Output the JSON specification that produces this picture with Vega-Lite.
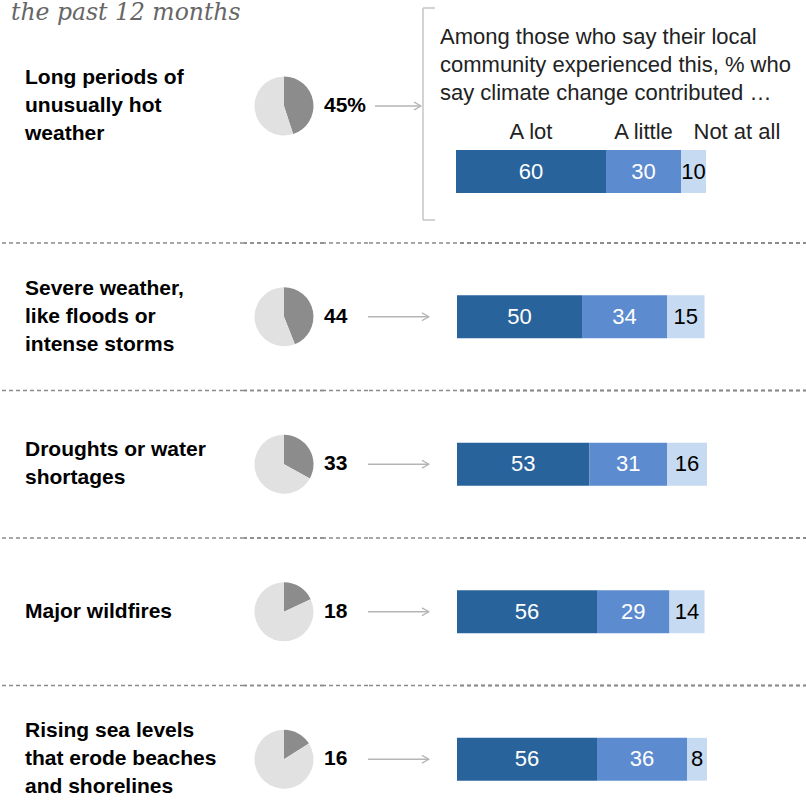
{
  "$schema": "https://vega.github.io/schema/vega-lite/v6.json",
  "padding": 0,
  "spacing": 0,
  "config": {
    "view": {"stroke": null},
    "concat": {"spacing": 0},
    "font": "Liberation Sans"
  },
  "datasets": {
    "notes": [
      {"part": "subtitle", "text": "the past 12 months"},
      {"part": "note", "text": "Among those who say their local\ncommunity experienced this, % who\nsay climate change contributed …"}
    ],
    "exp": [
      {"row": 1, "item": "Long periods of unusually hot weather", "label": "Long periods of\nunusually hot\nweather", "share": 45, "display": "45%"},
      {"row": 2, "item": "Severe weather, like floods or intense storms", "label": "Severe weather,\nlike floods or\nintense storms", "share": 44, "display": "44"},
      {"row": 3, "item": "Droughts or water shortages", "label": "Droughts or water\nshortages", "share": 33, "display": "33"},
      {"row": 4, "item": "Major wildfires", "label": "Major wildfires", "share": 18, "display": "18"},
      {"row": 5, "item": "Rising sea levels that erode beaches and shorelines", "label": "Rising sea levels\nthat erode beaches\nand shorelines", "share": 16, "display": "16"}
    ],
    "pie": [
      {"row": 1, "item": "Long periods of unusually hot weather", "part": "Yes", "value": 45},
      {"row": 1, "item": "Long periods of unusually hot weather", "part": "No", "value": 55},
      {"row": 2, "item": "Severe weather, like floods or intense storms", "part": "Yes", "value": 44},
      {"row": 2, "item": "Severe weather, like floods or intense storms", "part": "No", "value": 56},
      {"row": 3, "item": "Droughts or water shortages", "part": "Yes", "value": 33},
      {"row": 3, "item": "Droughts or water shortages", "part": "No", "value": 67},
      {"row": 4, "item": "Major wildfires", "part": "Yes", "value": 18},
      {"row": 4, "item": "Major wildfires", "part": "No", "value": 82},
      {"row": 5, "item": "Rising sea levels that erode beaches and shorelines", "part": "Yes", "value": 16},
      {"row": 5, "item": "Rising sea levels that erode beaches and shorelines", "part": "No", "value": 84}
    ],
    "contrib": [
      {"row": 1, "item": "Long periods of unusually hot weather", "resp": "A lot", "ord": 1, "value": 60},
      {"row": 1, "item": "Long periods of unusually hot weather", "resp": "A little", "ord": 2, "value": 30},
      {"row": 1, "item": "Long periods of unusually hot weather", "resp": "Not at all", "ord": 3, "value": 10},
      {"row": 2, "item": "Severe weather, like floods or intense storms", "resp": "A lot", "ord": 1, "value": 50},
      {"row": 2, "item": "Severe weather, like floods or intense storms", "resp": "A little", "ord": 2, "value": 34},
      {"row": 2, "item": "Severe weather, like floods or intense storms", "resp": "Not at all", "ord": 3, "value": 15},
      {"row": 3, "item": "Droughts or water shortages", "resp": "A lot", "ord": 1, "value": 53},
      {"row": 3, "item": "Droughts or water shortages", "resp": "A little", "ord": 2, "value": 31},
      {"row": 3, "item": "Droughts or water shortages", "resp": "Not at all", "ord": 3, "value": 16},
      {"row": 4, "item": "Major wildfires", "resp": "A lot", "ord": 1, "value": 56},
      {"row": 4, "item": "Major wildfires", "resp": "A little", "ord": 2, "value": 29},
      {"row": 4, "item": "Major wildfires", "resp": "Not at all", "ord": 3, "value": 14},
      {"row": 5, "item": "Rising sea levels that erode beaches and shorelines", "resp": "A lot", "ord": 1, "value": 56},
      {"row": 5, "item": "Rising sea levels that erode beaches and shorelines", "resp": "A little", "ord": 2, "value": 36},
      {"row": 5, "item": "Rising sea levels that erode beaches and shorelines", "resp": "Not at all", "ord": 3, "value": 8}
    ]
  },
  "vconcat": [
    {
      "spacing": 0,
      "hconcat": [
        {
          "spacing": 0,
          "vconcat": [
            {
              "width": 421,
              "height": 36,
              "data": {"name": "notes"},
              "transform": [{"filter": "datum.part === 'subtitle'"}],
              "mark": {"type": "text", "align": "left", "baseline": "alphabetic", "dx": 10, "dy": 0.8, "font": "DejaVu Serif", "fontStyle": "italic", "fontSize": 23.5, "color": "#666666"},
              "encoding": {"x": {"value": 0}, "text": {"field": "text"}}
            },
            {
              "spacing": 0,
              "bounds": "flush",
              "hconcat": [
                {
                  "width": 243,
                  "height": 138,
                  "data": {"name": "exp"},
                  "transform": [{"filter": "datum.row === 1"}],
                  "mark": {"type": "text", "align": "left", "baseline": "middle", "dx": 24, "dy": {"expr": "-14 * (length(split(datum.label, '\\n')) - 1)"}, "fontSize": 21, "fontWeight": "bold", "lineBreak": "\n", "lineHeight": 28, "color": "#000000"},
                  "encoding": {"x": {"value": 0}, "text": {"field": "label"}}
                },
                {
                  "width": 80,
                  "height": 138,
                  "data": {"name": "pie"},
                  "transform": [
                    {"filter": "datum.row === 1"},
                    {"stack": "value", "groupby": ["item"], "sort": [{"field": "part", "order": "descending"}], "as": ["v0", "v1"]}
                  ],
                  "mark": {"type": "arc", "outerRadius": 29.5},
                  "encoding": {
                    "theta": {"field": "v0", "type": "quantitative", "scale": {"domain": [0, 100]}},
                    "theta2": {"field": "v1"},
                    "color": {"condition": {"test": "datum.part === 'Yes'", "value": "#8c8c8c"}, "value": "#e1e1e1"}
                  }
                },
                {
                  "width": 51,
                  "height": 138,
                  "data": {"name": "exp"},
                  "transform": [{"filter": "datum.row === 1"}],
                  "mark": {"type": "text", "align": "left", "baseline": "middle", "fontSize": 21, "fontWeight": "bold", "color": "#000000"},
                  "encoding": {"x": {"value": 0}, "text": {"field": "display"}}
                },
                {
                  "width": 47,
                  "height": 138,
                  "data": {"name": "exp"},
                  "transform": [{"filter": "datum.row === 1"}],
                  "layer": [
                    {
                      "mark": {"type": "rule", "color": "#b5b5b5", "strokeWidth": 1.3},
                      "encoding": {
                        "x": {"datum": 0, "type": "quantitative", "scale": {"domain": [0, 1.02], "nice": false, "zero": false}, "axis": null},
                        "x2": {"datum": 1}
                      }
                    },
                    {
                      "mark": {"type": "point", "shape": "M-1,-0.55L0,0L-1,0.55", "filled": false, "stroke": "#b5b5b5", "strokeWidth": 1.3, "strokeJoin": "round", "size": 196, "opacity": 1},
                      "encoding": {"x": {"datum": 1, "type": "quantitative", "scale": {"domain": [0, 1.02], "nice": false, "zero": false}, "axis": null}}
                    }
                  ]
                }
              ]
            }
          ]
        },
        {
          "spacing": 0,
          "bounds": "flush",
          "vconcat": [
            {"width": 12, "height": 7, "mark": {"type": "rule", "opacity": 0}, "encoding": {}},
            {
              "width": 12,
              "height": 212,
              "data": {"name": "exp"},
              "transform": [{"filter": "datum.row === 1"}],
              "layer": [
                {
                  "mark": {"type": "rule", "color": "#c4c4c4", "strokeWidth": 1.5},
                  "encoding": {"x": {"datum": 0, "type": "quantitative", "scale": {"domain": [0, 1]}, "axis": null}}
                },
                {
                  "mark": {"type": "rule", "color": "#c4c4c4", "strokeWidth": 1.5},
                  "encoding": {"y": {"datum": 0, "type": "quantitative", "scale": {"domain": [0, 1]}, "axis": null}}
                },
                {
                  "mark": {"type": "rule", "color": "#c4c4c4", "strokeWidth": 1.5},
                  "encoding": {"y": {"datum": 1, "type": "quantitative", "scale": {"domain": [0, 1]}, "axis": null}}
                }
              ]
            },
            {"width": 12, "height": 21.5, "mark": {"type": "rule", "opacity": 0}, "encoding": {}}
          ]
        },
        {
          "spacing": 0,
          "bounds": "flush",
          "vconcat": [
            {
              "width": 370,
              "height": 118,
              "data": {"name": "notes"},
              "transform": [{"filter": "datum.part === 'note'"}],
              "mark": {"type": "text", "align": "left", "baseline": "middle", "dx": 4, "dy": -23, "fontSize": 22, "lineHeight": 28, "lineBreak": "\n", "color": "#222222"},
              "encoding": {"x": {"value": 0}, "text": {"field": "text"}}
            },
            {
              "width": 370,
              "height": 26,
              "data": {"name": "contrib"},
              "transform": [{"filter": "datum.row === 1"}],
              "mark": {"type": "text", "baseline": "middle", "fontSize": 22, "color": "#222222", "align": {"expr": "datum.resp === 'Not at all' ? 'left' : 'center'"}},
              "encoding": {
                "x": {"field": "value", "type": "quantitative", "stack": "zero", "bandPosition": 0.5, "scale": {"domain": [-8, 140], "nice": false, "zero": false}, "axis": null},
                "order": {"field": "ord", "type": "quantitative"},
                "detail": {"field": "resp", "type": "nominal"},
                "text": {"field": "resp"}
              }
            },
            {
              "width": 370,
              "height": 53,
              "data": {"name": "contrib"},
              "transform": [{"filter": "datum.row === 1"}],
              "encoding": {
                "y": {"field": "item", "type": "nominal", "axis": null, "scale": {"paddingInner": 0, "paddingOuter": 0.1163}},
                "order": {"field": "ord", "type": "quantitative"},
                "detail": {"field": "resp", "type": "nominal"}
              },
              "layer": [
                {
                  "mark": {"type": "bar"},
                  "encoding": {
                    "x": {"field": "value", "type": "quantitative", "stack": "zero", "scale": {"domain": [-8, 140], "nice": false, "zero": false}, "axis": null},
                    "color": {"condition": [{"test": "datum.resp === 'A lot'", "value": "#29639b"}, {"test": "datum.resp === 'A little'", "value": "#5d8bcf"}], "value": "#c6daf1"}
                  }
                },
                {
                  "mark": {"type": "text", "baseline": "middle", "fontSize": 22},
                  "encoding": {
                    "x": {"field": "value", "type": "quantitative", "stack": "zero", "bandPosition": 0.5, "scale": {"domain": [-8, 140], "nice": false, "zero": false}, "axis": null},
                    "text": {"field": "value"},
                    "color": {"condition": {"test": "datum.resp === 'Not at all'", "value": "#000000"}, "value": "#ffffff"}
                  }
                }
              ]
            }
          ]
        }
      ]
    },
    {
      "spacing": 0,
      "bounds": "flush",
      "hconcat": [
        {
          "width": 243,
          "height": 590,
          "data": {"name": "exp"},
          "transform": [{"filter": "datum.row > 1"}],
          "encoding": {
            "y": {"field": "item", "type": "nominal", "sort": null, "axis": null, "scale": {"paddingInner": 0, "paddingOuter": 0}}
          },
          "layer": [
            {
              "mark": {"type": "rule", "color": "#8a8a8a", "strokeDash": [4, 3], "strokeWidth": 1.5},
              "encoding": {"y": {"field": "item", "type": "nominal", "sort": null, "axis": null, "bandPosition": 0, "scale": {"paddingInner": 0, "paddingOuter": 0}}}
            },
            {
              "mark": {"type": "text", "align": "left", "baseline": "middle", "dx": 24, "dy": {"expr": "-14 * (length(split(datum.label, '\\n')) - 1)"}, "fontSize": 21, "fontWeight": "bold", "lineBreak": "\n", "lineHeight": 28, "color": "#000000"},
              "encoding": {"x": {"value": 0}, "text": {"field": "label"}}
            }
          ]
        },
        {
          "width": 80,
          "height": 590,
          "data": {"name": "pie"},
          "transform": [
            {"filter": "datum.row > 1"},
            {"stack": "value", "groupby": ["item"], "sort": [{"field": "part", "order": "descending"}], "as": ["v0", "v1"]}
          ],
          "encoding": {
            "y": {"field": "item", "type": "nominal", "sort": null, "axis": null, "scale": {"paddingInner": 0, "paddingOuter": 0}}
          },
          "layer": [
            {
              "mark": {"type": "rule", "color": "#8a8a8a", "strokeDash": [4, 3], "strokeWidth": 1.5},
              "encoding": {"y": {"field": "item", "type": "nominal", "sort": null, "axis": null, "bandPosition": 0, "scale": {"paddingInner": 0, "paddingOuter": 0}}}
            },
            {
              "mark": {"type": "arc", "outerRadius": 29.5},
              "encoding": {
                "theta": {"field": "v0", "type": "quantitative", "scale": {"domain": [0, 100]}},
                "theta2": {"field": "v1"},
                "color": {"condition": {"test": "datum.part === 'Yes'", "value": "#8c8c8c"}, "value": "#e1e1e1"}
              }
            }
          ]
        },
        {
          "width": 44,
          "height": 590,
          "data": {"name": "exp"},
          "transform": [{"filter": "datum.row > 1"}],
          "encoding": {
            "y": {"field": "item", "type": "nominal", "sort": null, "axis": null, "scale": {"paddingInner": 0, "paddingOuter": 0}}
          },
          "layer": [
            {
              "mark": {"type": "rule", "color": "#8a8a8a", "strokeDash": [4, 3], "strokeWidth": 1.5},
              "encoding": {"y": {"field": "item", "type": "nominal", "sort": null, "axis": null, "bandPosition": 0, "scale": {"paddingInner": 0, "paddingOuter": 0}}}
            },
            {
              "mark": {"type": "text", "align": "left", "baseline": "middle", "fontSize": 21, "fontWeight": "bold", "color": "#000000"},
              "encoding": {"x": {"value": 0}, "text": {"field": "display"}}
            }
          ]
        },
        {
          "width": 89,
          "height": 590,
          "data": {"name": "exp"},
          "transform": [{"filter": "datum.row > 1"}],
          "encoding": {
            "y": {"field": "item", "type": "nominal", "sort": null, "axis": null, "scale": {"paddingInner": 0, "paddingOuter": 0}}
          },
          "layer": [
            {
              "mark": {"type": "rule", "color": "#8a8a8a", "strokeDash": [4, 3], "strokeWidth": 1.5},
              "encoding": {"y": {"field": "item", "type": "nominal", "sort": null, "axis": null, "bandPosition": 0, "scale": {"paddingInner": 0, "paddingOuter": 0}}}
            },
            {
              "mark": {"type": "rule", "color": "#b5b5b5", "strokeWidth": 1.3},
              "encoding": {
                "x": {"datum": 0, "type": "quantitative", "scale": {"domain": [0, 1.46], "nice": false, "zero": false}, "axis": null},
                "x2": {"datum": 1}
              }
            },
            {
              "mark": {"type": "point", "shape": "M-1,-0.55L0,0L-1,0.55", "filled": false, "stroke": "#b5b5b5", "strokeWidth": 1.3, "strokeJoin": "round", "size": 196, "opacity": 1},
              "encoding": {"x": {"datum": 1, "type": "quantitative", "scale": {"domain": [0, 1.46], "nice": false, "zero": false}, "axis": null}}
            }
          ]
        },
        {
          "width": 350,
          "height": 590,
          "data": {"name": "contrib"},
          "transform": [{"filter": "datum.row > 1"}],
          "encoding": {
            "y": {"field": "item", "type": "nominal", "sort": null, "axis": null, "scale": {"paddingInner": 0, "paddingOuter": 0}}
          },
          "layer": [
            {
              "mark": {"type": "rule", "color": "#8a8a8a", "strokeDash": [4, 3], "strokeWidth": 1.5},
              "encoding": {"y": {"field": "item", "type": "nominal", "sort": null, "axis": null, "bandPosition": 0, "scale": {"paddingInner": 0, "paddingOuter": 0}}}
            },
            {
              "mark": {"type": "bar", "height": {"band": 0.29}},
              "encoding": {
                "x": {"field": "value", "type": "quantitative", "stack": "zero", "scale": {"domain": [0, 140], "nice": false}, "axis": null},
                "order": {"field": "ord", "type": "quantitative"},
                "detail": {"field": "resp", "type": "nominal"},
                "color": {"condition": [{"test": "datum.resp === 'A lot'", "value": "#29639b"}, {"test": "datum.resp === 'A little'", "value": "#5d8bcf"}], "value": "#c6daf1"}
              }
            },
            {
              "mark": {"type": "text", "baseline": "middle", "fontSize": 22},
              "encoding": {
                "x": {"field": "value", "type": "quantitative", "stack": "zero", "bandPosition": 0.5, "scale": {"domain": [0, 140], "nice": false}, "axis": null},
                "order": {"field": "ord", "type": "quantitative"},
                "detail": {"field": "resp", "type": "nominal"},
                "text": {"field": "value"},
                "color": {"condition": {"test": "datum.resp === 'Not at all'", "value": "#000000"}, "value": "#ffffff"}
              }
            }
          ]
        }
      ]
    }
  ]
}
